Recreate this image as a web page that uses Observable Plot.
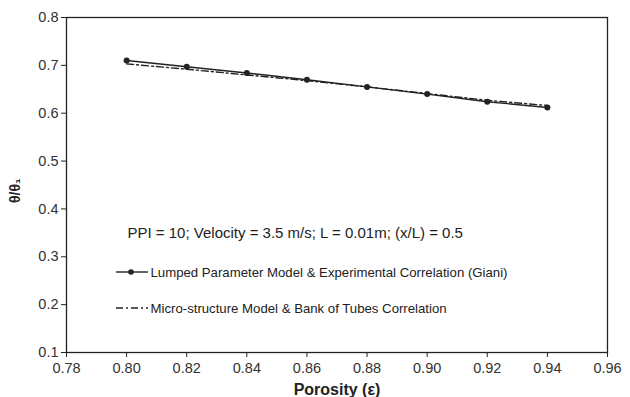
<!DOCTYPE html>
<html><head><meta charset="utf-8">
<script src="https://cdn.jsdelivr.net/npm/d3@7"></script>
<script src="https://cdn.jsdelivr.net/npm/@observablehq/plot@0.6"></script>
<style>
body{margin:0;background:#fff;font-family:"Liberation Sans",Arial,sans-serif;}
#chart{position:relative;width:630px;height:397px;}
</style></head>
<body><div id="chart"></div>
<script>
const porosity = [0.80, 0.82, 0.84, 0.86, 0.88, 0.90, 0.92, 0.94];
const lumped = [0.710, 0.697, 0.684, 0.670, 0.655, 0.640, 0.624, 0.612];
const micro = [0.703, 0.692, 0.680, 0.668, 0.655, 0.641, 0.627, 0.616];
const xTicks = [0.78, 0.80, 0.82, 0.84, 0.86, 0.88, 0.90, 0.92, 0.94, 0.96];
const yTicks = [0.1, 0.2, 0.3, 0.4, 0.5, 0.6, 0.7, 0.8];
const seriesNames = ["Lumped Parameter Model & Experimental Correlation (Giani)", "Micro-structure Model & Bank of Tubes Correlation"];
const annotation = "PPI = 10; Velocity = 3.5 m/s; L = 0.01m; (x/L) = 0.5";

const dataL = porosity.map((x,i)=>({x, y: lumped[i]}));
const dataM = porosity.map((x,i)=>({x, y: micro[i]}));

const plot = Plot.plot({
  width: 630, height: 397,
  marginLeft: 66, marginRight: 23, marginTop: 17, marginBottom: 45,
  style: {fontFamily: '"Liberation Sans", Arial, sans-serif', fontSize: "14.5px", color: "#222", background: "#fff"},
  x: {domain: [0.78, 0.96], label: null},
  y: {domain: [0.1, 0.8], label: null},
  marks: [
    Plot.frame({stroke: "#222", strokeWidth: 1.3}),
    Plot.axisX({ticks: xTicks, tickFormat: d3.format(".2f"), tickSize: 5, tickPadding: 5, stroke: "#222", fill: "#333", label: null}),
    Plot.axisY({ticks: yTicks, tickFormat: d3.format(".1f"), tickSize: 5, tickPadding: 3, stroke: "#222", fill: "#333", label: null}),
    Plot.line(dataM, {x: "x", y: "y", stroke: "#222", strokeWidth: 1.4, strokeDasharray: "7,3,2,3"}),
    Plot.line(dataL, {x: "x", y: "y", stroke: "#222", strokeWidth: 1.4}),
    Plot.dot(dataL, {x: "x", y: "y", r: 3, fill: "#222", stroke: "none"}),
    Plot.text([annotation], {frameAnchor: "top-left", dx: 61, dy: 216, lineAnchor: "middle", text: d=>d, textAnchor: "start", fontSize: 15, fill: "#222"}),
    Plot.text([seriesNames[0]], {frameAnchor: "top-left", dx: 84, dy: 255, lineAnchor: "middle", text: d=>d, textAnchor: "start", fontSize: 13.2, fill: "#222"}),
    Plot.text([seriesNames[1]], {frameAnchor: "top-left", dx: 84, dy: 291, lineAnchor: "middle", text: d=>d, textAnchor: "start", fontSize: 13.2, fill: "#222"}),
    Plot.text(["Porosity (ε)"], {frameAnchor: "bottom", dy: 37, lineAnchor: "middle", text: d=>d, fontSize: 16, fontWeight: "bold", fill: "#222"}),
    Plot.text(["θ/θ₁"], {frameAnchor: "left", dx: -51, dy: 18, rotate: -90, text: d=>d, fontSize: 14, fontWeight: "bold", fill: "#222"})
  ]
});
document.getElementById("chart").appendChild(plot);

const svg = d3.select(plot);

// legend line samples
const g = svg.append("g").attr("stroke", "#222").attr("stroke-width", 1.4);
g.append("line").attr("x1", 116).attr("x2", 148).attr("y1", 272).attr("y2", 272);
g.append("circle").attr("cx", 131).attr("cy", 272).attr("r", 2.8).attr("fill", "#222").attr("stroke", "none");
g.append("line").attr("x1", 116).attr("x2", 148).attr("y1", 308).attr("y2", 308).attr("stroke-dasharray", "7,3,2,3");
</script></body></html>
